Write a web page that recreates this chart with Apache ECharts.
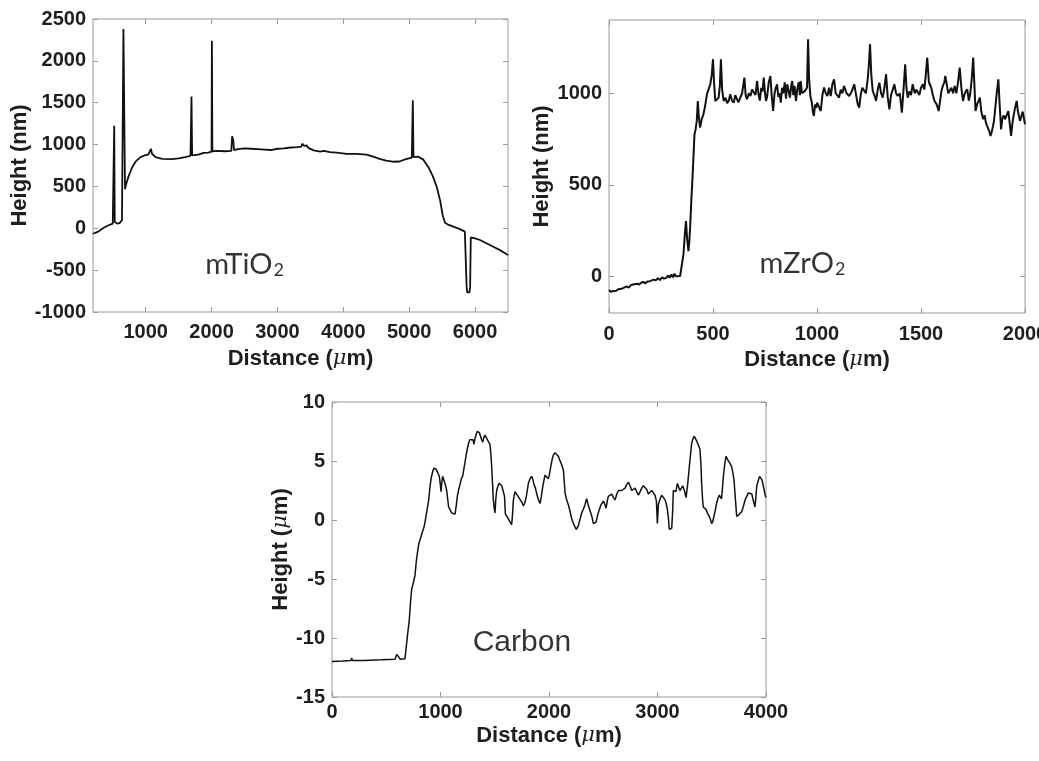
<!DOCTYPE html>
<html>
<head>
<meta charset="utf-8">
<script src="https://cdn.jsdelivr.net/npm/echarts@6/dist/echarts.min.js"></script>
<style>
html,body{margin:0;padding:0;background:#fff;}
#c{width:1039px;height:761px;}
</style>
</head>
<body>
<div id="c"></div>
<script>
// ---------- mTiO2 profile (Distance µm, Height nm) ----------
const tiX = [200,280,350,420,500,515,522,530,545,575,610,640,648,662,676,686,700,740,790,850,920,980,1040,1070,1080,1095,1150,1250,1400,1500,1600,1680,1695,1705,1800,1880,1950,2000,2005,2012,2100,2200,2300,2312,2330,2340,2400,2500,2600,2700,2800,2900,3000,3100,3200,3300,3360,3380,3400,3440,3470,3550,3650,3700,3800,3900,4050,4200,4350,4455,4550,4650,4750,4850,4950,5040,5055,5065,5140,5215,5300,5360,5420,5470,5510,5545,5600,5700,5770,5845,5860,5872,5880,5915,5925,5935,5948,6000,6075,6150,6277,6400,6500];
const tiY = [-65,-40,0,30,55,65,1225,75,60,55,65,100,110,2380,2380,465,520,620,720,800,850,870,880,890,950,890,850,830,825,835,850,865,1575,870,880,900,905,915,2240,920,925,920,925,1100,1050,935,945,955,950,945,940,935,950,955,965,970,975,1010,985,990,960,930,915,925,910,905,890,890,880,855,830,808,795,798,825,845,1530,850,855,820,720,620,490,330,150,65,40,10,-10,-40,-60,-700,-765,-765,-700,-110,-100,-120,-140,-170,-220,-270,-320];

// ---------- mZrO2 profile (Distance µm, Height nm) ----------
const zrX = [0,10,20,35,45,52,60,75,85,95,105,116,125,135,145,155,165,175,185,197,205,215,225,235,245,255,265,277,285,292,300,308,315,322,330,342,350,358,364,370,376,382,386,390,396,403,408,411,416,422,427,432,438,446,454,462,471,479,487,494,500,505,511,519,527,533,538,544,551,560,568,576,583,591,600,607,615,622,631,640,645,651,657,664,672,680,688,696,704,712,718,725,732,738,744,750,755,760,768,776,782,789,796,802,808,814,820,826,832,838,845,851,857,864,870,876,881,886,892,899,905,912,918,921,928,933,940,946,952,957,962,968,975,980,985,991,996,1001,1010,1018,1026,1034,1042,1050,1058,1066,1074,1082,1090,1098,1106,1114,1122,1130,1142,1155,1167,1179,1188,1196,1203,1210,1218,1227,1235,1243,1249,1255,1261,1268,1276,1284,1292,1300,1308,1316,1324,1332,1340,1348,1356,1364,1372,1380,1388,1398,1408,1416,1424,1430,1436,1444,1452,1460,1470,1478,1485,1492,1500,1509,1516,1523,1530,1538,1549,1557,1565,1575,1585,1592,1598,1605,1612,1617,1625,1631,1638,1646,1654,1662,1670,1678,1686,1694,1702,1708,1715,1722,1730,1737,1744,1751,1757,1762,1770,1777,1783,1790,1799,1806,1812,1818,1823,1829,1834,1840,1846,1851,1858,1864,1872,1878,1885,1891,1897,1904,1912,1920,1926,1933,1939,1944,1952,1960,1966,1972,1976,1984,1989,1993,2000];
const zrY = [-75,-85,-80,-78,-70,-62,-68,-60,-55,-62,-48,-44,-50,-40,-45,-35,-30,-38,-28,-26,-32,-18,-22,-10,-20,-5,-12,-7,5,-8,10,-5,15,0,8,2,10,120,220,302,200,138,190,266,420,575,700,776,800,849,958,870,812,860,885,930,995,1000,1049,1100,1186,1060,958,950,976,1040,1186,1020,958,975,945,960,995,960,949,990,985,950,958,1000,1040,1085,990,967,1000,985,1020,1022,990,1067,1000,960,1030,1010,1085,1000,958,980,1060,1094,990,903,1000,1030,1049,980,1000,949,1030,1000,1060,970,1049,1010,976,1040,1067,990,1040,958,1020,1060,990,1067,1000,1004,1010,1000,1030,1295,1080,985,950,900,876,940,920,949,958,903,990,1031,1000,985,1030,985,1050,1076,1000,990,976,1020,1000,1040,1000,985,1010,1049,990,940,922,990,1030,1031,1000,1067,1150,1268,1100,1012,990,958,1020,1058,1000,976,1030,1104,980,912,990,1020,1049,1000,985,1000,894,1020,1158,1030,976,1010,990,1049,1000,1020,1004,990,1030,1049,1020,1100,1195,1060,1031,990,958,940,903,960,1012,1040,1060,1094,1040,1000,1004,1030,1000,1040,1000,1060,1140,1030,958,990,1010,1022,960,1000,1080,1195,1040,903,940,960,976,900,858,880,840,820,812,790,767,790,820,849,930,1000,1076,940,803,860,880,858,880,903,840,767,830,870,920,958,900,870,849,880,900,903,830];

// ---------- Carbon profile (Distance µm, Height µm) ----------
const cX = [0,100,175,181,188,300,450,581,596,605,615,627,673,694,712,725,734,750,765,777,787,800,811,830,848,857,866,880,890,903,915,928,940,949,960,970,980,989,996,1005,1012,1020,1030,1042,1057,1066,1075,1083,1091,1103,1118,1134,1145,1155,1168,1180,1192,1204,1215,1226,1240,1256,1270,1288,1300,1308,1318,1327,1338,1349,1359,1369,1379,1389,1400,1410,1421,1431,1444,1456,1465,1472,1480,1487,1495,1502,1510,1518,1530,1540,1549,1565,1580,1590,1598,1612,1625,1640,1656,1664,1671,1679,1687,1700,1715,1733,1750,1764,1775,1789,1800,1810,1825,1841,1852,1862,1875,1887,1900,1917,1930,1942,1952,1963,1978,1994,2005,2016,2028,2040,2055,2070,2086,2098,2108,2120,2133,2140,2148,2160,2178,2195,2209,2225,2240,2252,2261,2270,2280,2290,2301,2316,2332,2340,2347,2358,2371,2385,2395,2409,2421,2433,2448,2464,2480,2501,2515,2526,2537,2547,2562,2578,2595,2609,2625,2640,2655,2670,2685,2701,2716,2732,2747,2762,2778,2793,2808,2824,2840,2855,2870,2885,2900,2916,2932,2947,2962,2977,2990,2999,3008,3020,3039,3055,3070,3080,3091,3100,3109,3120,3131,3140,3146,3158,3170,3183,3195,3207,3220,3232,3248,3263,3278,3293,3305,3315,3327,3339,3350,3361,3375,3391,3400,3407,3415,3422,3434,3446,3460,3477,3490,3499,3510,3520,3532,3544,3556,3569,3580,3590,3598,3606,3618,3631,3642,3653,3668,3684,3695,3705,3716,3730,3742,3755,3765,3776,3790,3807,3822,3838,3853,3869,3884,3899,3907,3915,3928,3941,3952,3963,3975,3984,3992,4000];
const cY = [-12.0,-11.95,-11.9,-11.7,-11.9,-11.9,-11.85,-11.8,-11.4,-11.3,-11.6,-11.8,-11.75,-9.9,-8.5,-6.8,-5.9,-5.3,-4.7,-3.5,-2.8,-2.0,-1.7,-1.1,-0.6,-0.2,0.3,0.3,1.6,2.8,3.6,4.1,4.4,4.5,4.3,4.1,3.9,3.7,3.2,2.4,3.2,3.7,3.4,3.1,2.5,1.8,1.1,1.0,1.2,0.6,0.45,0.5,1.2,2.0,2.6,3.0,3.5,3.7,4.3,4.9,5.7,6.4,6.8,6.9,6.8,6.4,6.9,7.2,7.5,7.5,7.4,7.1,6.8,6.6,7.0,7.2,7.0,6.9,6.6,6.4,5.5,4.5,3.0,1.7,1.0,0.6,1.8,2.5,2.9,3.1,3.1,2.9,2.9,2.0,0.5,0.3,0.1,0.0,-0.4,0.5,1.6,2.1,2.4,2.2,2.0,1.9,1.5,1.2,1.4,1.9,2.5,3.1,3.5,3.7,3.4,3.0,2.7,2.2,1.8,1.4,2.0,2.8,3.3,3.8,3.7,3.5,3.9,4.5,5.1,5.5,5.7,5.6,5.4,5.1,4.9,4.6,4.2,3.3,2.3,1.8,1.3,0.7,0.1,-0.3,-0.6,-0.8,-0.8,-0.5,-0.4,0.2,0.6,0.9,1.3,1.6,1.8,1.4,1.0,0.9,0.3,-0.3,-0.4,-0.2,0.4,0.9,1.3,1.6,1.3,1.0,1.6,2.0,2.1,2.2,1.9,1.7,2.2,2.5,2.4,2.5,2.6,2.7,3.0,3.2,2.9,2.5,2.6,2.7,2.4,2.1,2.4,2.7,2.9,3.0,2.6,2.2,2.3,2.5,2.3,2.1,1.6,-0.3,1.3,1.7,2.1,1.9,1.7,1.4,0.9,0.2,-0.8,-0.8,-0.7,0.8,2.5,2.6,2.4,3.1,2.8,2.5,2.7,2.9,2.5,1.9,3.0,4.5,5.6,6.5,6.9,7.1,6.9,6.7,6.4,6.0,4.8,3.1,1.8,1.1,1.0,0.9,0.6,0.3,0.0,-0.3,-0.1,0.3,0.8,1.4,1.8,2.1,2.0,1.8,2.6,3.6,4.6,5.4,5.2,5.0,4.8,4.5,4.0,3.4,2.0,0.3,0.3,0.5,0.6,0.7,1.1,1.7,2.0,2.3,2.3,2.2,1.6,1.1,2.0,2.9,3.3,3.7,3.6,3.4,2.9,2.5,2.1,1.9];

// ---------- axis tick values & labels ----------
const tiXTicks = [1000,2000,3000,4000,5000,6000];
const zrYTicks = [0,500,1000];
const labels = ['mTiO', 'mZrO', 'Carbon'];
const labelPos = [[2500,-440],[930,68],[1750,-10.4]];

const pair = (xs, ys) => xs.map((x, i) => [x, ys[i]]);

const FONT = "'Liberation Sans', Arial, Helvetica, sans-serif";
const GRAY = '#9a9a9a';
const TXT = '#1e1e1e';

function nameStyle(size) {
  return {
    rich: {
      n: {fontFamily: FONT, fontWeight: 'bold', fontSize: size, color: TXT},
      mu: {fontFamily: "'DejaVu Serif', serif", fontStyle: 'italic', fontSize: size - 1, color: TXT}
    }
  };
}
function lbl(margin) {
  return {fontFamily: FONT, fontWeight: 'bold', fontSize: 20, color: TXT, margin: margin,
          formatter: v => String(v)};
}
const tick = {inside: true, length: 5, lineStyle: {color: GRAY, width: 1}};
const noLine = {show: false, onZero: false};

function xPair(gi, min, max, opts, nameGap, labelMargin, name) {
  const bottom = Object.assign({
    type: 'value', gridIndex: gi, position: 'bottom', min: min, max: max,
    axisLine: noLine, splitLine: {show: false},
    axisTick: Object.assign({}, tick), axisLabel: lbl(labelMargin),
    name: name, nameLocation: 'middle', nameGap: nameGap, nameTextStyle: nameStyle(22)
  }, opts.main || {});
  if (opts.custom) {
    bottom.axisTick = Object.assign({}, tick, {customValues: opts.custom});
    bottom.axisLabel = Object.assign(lbl(labelMargin), {customValues: opts.custom});
  }
  const top = {
    type: 'value', gridIndex: gi, position: 'top', min: min, max: max,
    interval: bottom.interval,
    axisLine: noLine, splitLine: {show: false},
    axisTick: Object.assign({}, bottom.axisTick), axisLabel: {show: false}
  };
  return [bottom, top];
}
function yPair(gi, min, max, opts, nameGap, name) {
  const left = Object.assign({
    type: 'value', gridIndex: gi, position: 'left', min: min, max: max,
    axisLine: noLine, splitLine: {show: false},
    axisTick: Object.assign({}, tick), axisLabel: lbl(7),
    name: name, nameLocation: 'middle', nameGap: nameGap, nameTextStyle: nameStyle(22)
  }, opts.main || {});
  if (opts.custom) {
    left.axisTick = Object.assign({}, tick, {customValues: opts.custom});
    left.axisLabel = Object.assign(lbl(7), {customValues: opts.custom});
  }
  const right = {
    type: 'value', gridIndex: gi, position: 'right', min: min, max: max,
    interval: left.interval,
    axisLine: noLine, splitLine: {show: false},
    axisTick: Object.assign({}, left.axisTick), axisLabel: {show: false}
  };
  return [left, right];
}

const DIST = '{n|Distance (}{mu|μ}{n|m)}';

const xAxes = [].concat(
  xPair(0, 200, 6500, {custom: tiXTicks}, 36, 10, DIST),
  xPair(1, 0, 2000, {main: {interval: 500}}, 36, 11, DIST),
  xPair(2, 0, 4000, {main: {interval: 1000}}, 28, 5, DIST)
);
const yAxes = [].concat(
  yPair(0, -1000, 2500, {main: {interval: 500}}, 62, '{n|Height (nm)}'),
  yPair(1, -200, 1400, {custom: zrYTicks}, 56, '{n|Height (nm)}'),
  yPair(2, -15, 10, {main: {interval: 5}}, 40, '{n|Height (}{mu|μ}{n|m)}')
);

function profile(idx, xs, ys, w) {
  return {
    type: 'line', xAxisIndex: idx * 2, yAxisIndex: idx * 2,
    data: pair(xs, ys), showSymbol: false, symbol: 'none',
    lineStyle: {color: '#111', width: w}, silent: true, z: 3
  };
}
function annot(idx, fmt, rich) {
  return {
    type: 'scatter', xAxisIndex: idx * 2, yAxisIndex: idx * 2,
    data: [labelPos[idx]], symbolSize: 0, silent: true,
    itemStyle: {color: '#000'},
    label: {show: true, position: 'inside', color: '#000', textBorderWidth: 0,
            formatter: fmt, rich: rich}
  };
}
const subRich = {
  a: {fontFamily: "Lato, 'Open Sans', sans-serif", fontSize: 29, color: '#000'},
  s: {fontFamily: "Lato, 'Open Sans', sans-serif", fontSize: 18, color: '#000', verticalAlign: 'bottom', padding: [0, 0, 0, 1]}
};

const gridBase = {show: true, borderColor: GRAY, borderWidth: 1, containLabel: false, outerBoundsMode: 'none'};
const option = {
  animation: false,
  backgroundColor: '#fff',
  grid: [
    Object.assign({left: 93, top: 19, width: 415, height: 293}, gridBase),
    Object.assign({left: 609, top: 20, width: 416, height: 293}, gridBase),
    Object.assign({left: 332, top: 402, width: 434, height: 295}, gridBase)
  ],
  xAxis: xAxes,
  yAxis: yAxes,
  series: [
    profile(0, tiX, tiY, 1.8),
    profile(1, zrX, zrY, 2),
    profile(2, cX, cY, 1.5),
    annot(0, '{a|' + labels[0] + '}{s|2}', subRich),
    annot(1, '{a|' + labels[1] + '}{s|2}', subRich),
    annot(2, '{c|' + labels[2] + '}', {c: {fontFamily: FONT, fontSize: 30, color: '#000'}})
  ]
};

const chart = echarts.init(document.getElementById('c'), null, {renderer: 'canvas'});
chart.setOption(option);
</script>
</body>
</html>
